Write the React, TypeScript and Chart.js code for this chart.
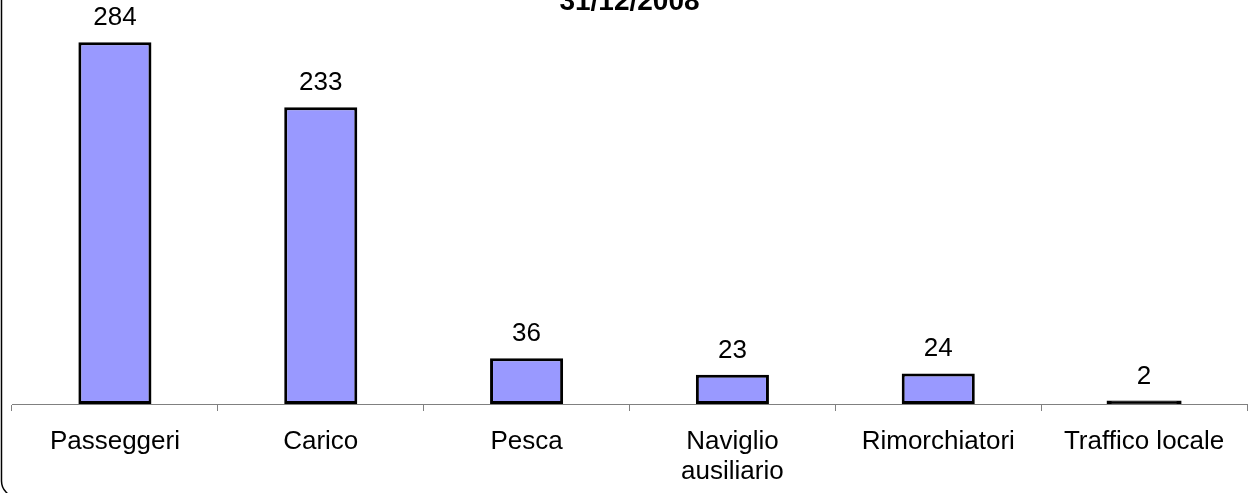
import React, { useEffect, useRef } from "react";
import { Chart, registerables } from "chart.js";

Chart.register(...registerables);

const categories: (string | string[])[] = [
  "Passeggeri",
  "Carico",
  "Pesca",
  ["Naviglio", "ausiliario"],
  "Rimorchiatori",
  "Traffico locale",
];
const values: number[] = [284, 233, 36, 23, 24, 2];
const titleText = "31/12/2008";
const yMax = 300;

const FONT = "'Liberation Sans', Arial, sans-serif";

const framePlugin = {
  id: "frame",
  afterDraw(chart: any) {
    const ctx = chart.ctx;
    const area = chart.chartArea;
    ctx.save();
    // rounded border
    ctx.strokeStyle = "#000";
    ctx.lineWidth = 1.5;
    const x = 1.5, y = -30, w = 1300, h = 30 + 497, r = 16;
    ctx.beginPath();
    ctx.moveTo(x + r, y);
    ctx.lineTo(x + w - r, y);
    ctx.arcTo(x + w, y, x + w, y + r, r);
    ctx.lineTo(x + w, y + h - r);
    ctx.arcTo(x + w, y + h, x + w - r, y + h, r);
    ctx.lineTo(x + r, y + h);
    ctx.arcTo(x, y + h, x, y + h - r, r);
    ctx.lineTo(x, y + r);
    ctx.arcTo(x, y, x + r, y, r);
    ctx.closePath();
    ctx.stroke();
    // title
    ctx.fillStyle = "#000";
    ctx.font = `bold 28px ${FONT}`;
    ctx.textAlign = "center";
    ctx.textBaseline = "alphabetic";
    ctx.fillText(titleText, (area.left + area.right) / 2, 10);
    // data labels
    ctx.font = `26px ${FONT}`;
    const meta = chart.getDatasetMeta(0);
    meta.data.forEach((bar: any, i: number) => {
      ctx.fillText(String(values[i]), bar.x, bar.y - 17);
    });
    ctx.restore();
  },
};

export default function App() {
  const ref = useRef<HTMLCanvasElement>(null);
  useEffect(() => {
    if (!ref.current) return;
    const chart = new Chart(ref.current, {
      type: "bar",
      data: {
        labels: categories,
        datasets: [
          {
            data: values,
            backgroundColor: (c: any) => (c.raw !== undefined && c.raw < 5 ? "#000" : "#9999FF"),
            borderColor: "#000",
            borderWidth: 3,
            borderSkipped: false,
            inflateAmount: (c: any) => (c.raw !== undefined && c.raw < 5 ? 1 : 0),
            categoryPercentage: 1,
            barPercentage: 0.355,
          },
        ],
      },
      options: {
        animation: false,
        responsive: false,
        maintainAspectRatio: false,
        layout: { padding: { left: 12, right: 1, top: 22, bottom: 0 } },
        plugins: {
          legend: { display: false },
          tooltip: { enabled: false },
          title: { display: false },
        },
        scales: {
          y: { display: false, min: 0, max: yMax },
          x: {
            offset: true,
            grid: {
              offset: true,
              drawOnChartArea: false,
              drawTicks: true,
              tickLength: 7,
              color: "#808080",
            },
            border: { display: true, color: "#808080", width: 1 },
            ticks: {
              color: "#000",
              font: { family: FONT, size: 26, lineHeight: 1.154 },
              padding: 16,
              maxRotation: 0,
              autoSkip: false,
            },
            afterFit: (s: any) => {
              s.height = 89;
            },
          },
        },
      },
      plugins: [framePlugin],
    });
    return () => chart.destroy();
  }, []);
  return (
    <div style={{ position: "fixed", left: 0, top: 0, width: 1248, height: 493, background: "#fff" }}>
      <canvas ref={ref} width={1248} height={493} style={{ display: "block" }} />
    </div>
  );
}
